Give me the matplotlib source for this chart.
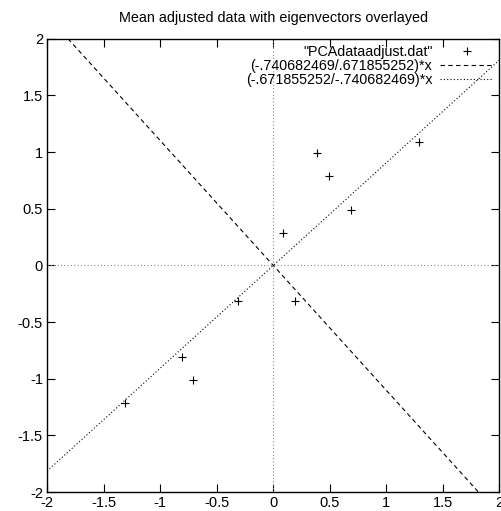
import matplotlib
matplotlib.use('Agg')
import matplotlib.pyplot as plt
import numpy as np

plt.rcParams['font.family'] = ['Liberation Sans', 'DejaVu Sans']

# mean adjusted data
x_adj = [0.69, -1.31, 0.39, 0.09, 1.29, 0.49, 0.19, -0.81, -0.31, -0.71]
y_adj = [0.49, -1.21, 0.99, 0.29, 1.09, 0.79, -0.31, -0.81, -0.31, -1.01]

# eigenvectors
ev1 = (-0.740682469, 0.671855252)
ev2 = (-0.671855252, -0.740682469)

ticks = [-2, -1.5, -1, -0.5, 0, 0.5, 1, 1.5, 2]
tick_labels = ['-2', '-1.5', '-1', '-0.5', '0', '0.5', '1', '1.5', '2']

fig = plt.figure(figsize=(5.01, 5.11), dpi=100)
ax = fig.add_axes([0.094, 0.037, 0.903, 0.887])

# zero axes
ax.axhline(0, color='#888888', lw=0.8, ls=(0, (1, 2)))
ax.axvline(0, color='#888888', lw=0.8, ls=(0, (1, 2)))

xs = np.linspace(-2, 2, 200)
ax.plot(x_adj, y_adj, '+', color='black', ms=6, mew=0.8, label='"PCAdataadjust.dat"')
ax.plot(xs, ev1[0] / ev1[1] * xs, color='black', lw=0.8, ls=(0, (4, 3)),
        label='(-.740682469/.671855252)*x')
ax.plot(xs, ev2[0] / ev2[1] * xs, color='black', lw=0.8, ls=(0, (1, 2)),
        label='(-.671855252/-.740682469)*x')

ax.set_xlim(-2, 2)
ax.set_ylim(-2, 2)
ax.set_xticks(ticks)
ax.set_xticklabels(tick_labels)
ax.set_yticks(ticks)
ax.set_yticklabels(tick_labels)
ax.tick_params(direction='in', top=True, right=True, length=6, width=0.8,
               labelsize=10.5, pad=3)
for s in ax.spines.values():
    s.set_linewidth(1.0)

ax.set_title('Mean adjusted data with eigenvectors overlayed', fontsize=10.4, pad=12)

leg = ax.legend(loc='upper right', frameon=False, fontsize=10.3, markerfirst=False,
                handlelength=3.7, handletextpad=0.55, labelspacing=0.0,
                borderaxespad=0.05, alignment='right')
for t in leg.get_texts():
    t.set_ha('right')

fig.savefig('out.png', dpi=100)
